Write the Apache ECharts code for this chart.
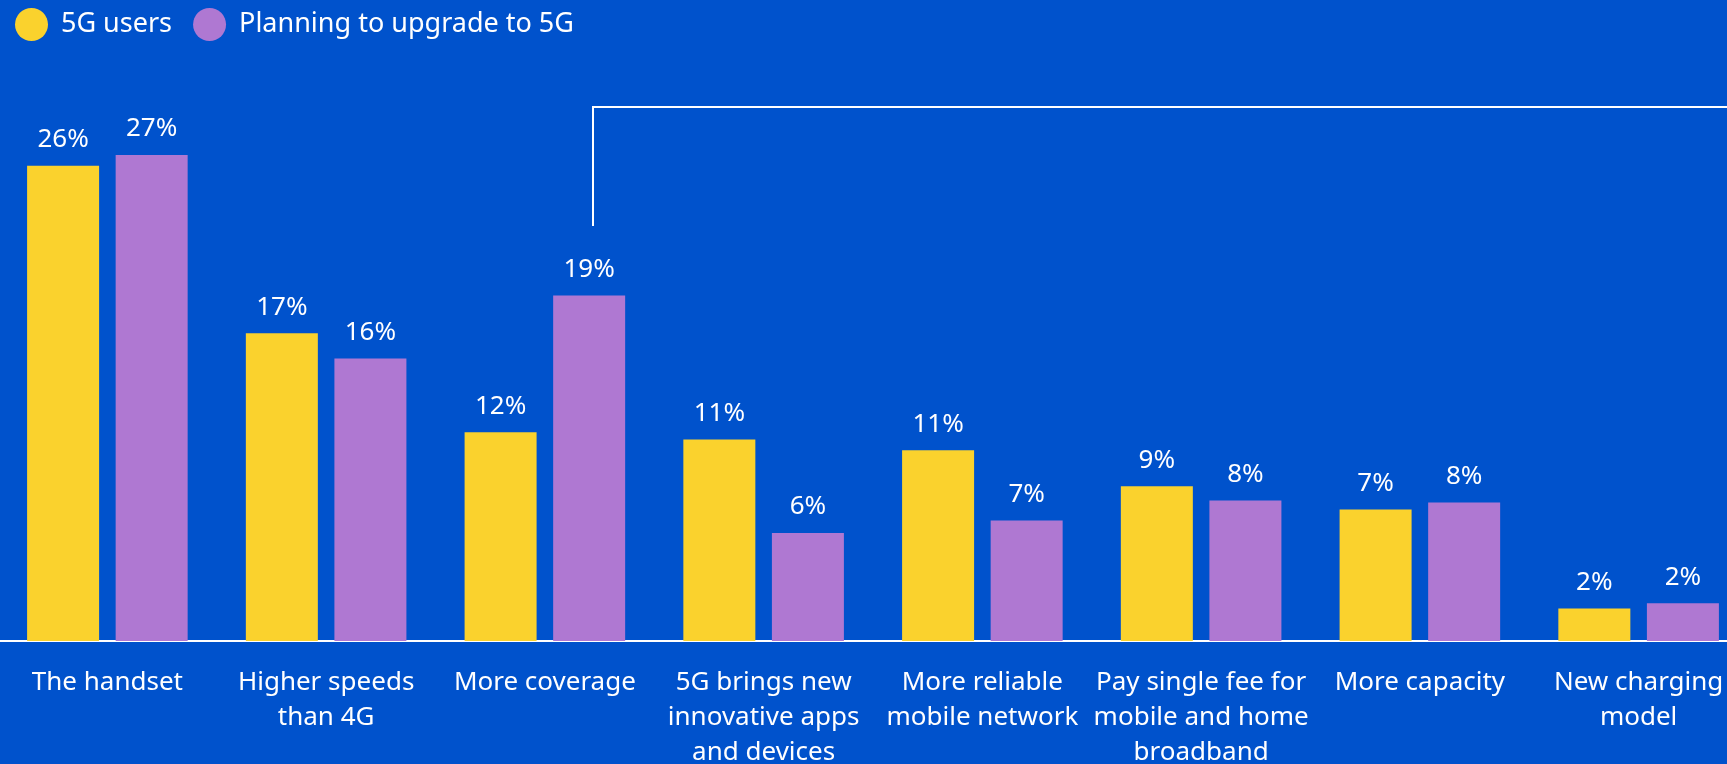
<!DOCTYPE html>
<html>
<head>
<meta charset="utf-8">
<script src="https://cdn.jsdelivr.net/npm/echarts@6/dist/echarts.min.js"></script>
<style>
  html, body { margin: 0; padding: 0; background: #0052cc; }
  #chart { width: 1727px; height: 764px; }
</style>
</head>
<body>
<div id="chart"></div>
<script>
// categories on the x axis
const categories = [
  "The handset",
  "Higher speeds\nthan 4G",
  "More coverage",
  "5G brings new\ninnovative apps\nand devices",
  "More reliable\nmobile network",
  "Pay single fee for\nmobile and home\nbroadband",
  "More capacity",
  "New charging\nmodel"
];
// share of respondents (%)
const usersValues = [26.4, 17.1, 11.6, 11.2, 10.6, 8.6, 7.3, 1.8];
const planningValues = [27.0, 15.7, 19.2, 6.0, 6.7, 7.8, 7.7, 2.1];

const FONT = "Noto Sans";
var myChart = echarts.init(document.getElementById("chart"));

const labelStyle = {
  show: true,
  position: "top",
  distance: 13,
  color: "#ffffff",
  fontFamily: FONT,
  fontSize: 26,
  formatter: function (p) {
    return Math.round(p.value) + "%";
  },
};

myChart.setOption({
  backgroundColor: "#0052cc",
  animation: false,
  legend: {
    left: 15,
    top: 8,
    padding: 0,
    icon: "circle",
    itemWidth: 33,
    itemHeight: 33,
    itemGap: 21,
    textStyle: {
      color: "#ffffff",
      fontFamily: FONT,
      fontSize: 27,
      padding: [0, 0, 0, 8],
    },
    data: ["5G users", "Planning to upgrade to 5G"],
  },
  grid: {
    left: -2,
    right: -21,
    top: 101,
    bottom: 123,
    outerBoundsMode: "none",
  },
  xAxis: {
    type: "category",
    data: categories,
    axisLine: { show: true, lineStyle: { color: "#ffffff", width: 2 } },
    axisTick: { show: false },
    axisLabel: {
      color: "#ffffff",
      fontFamily: FONT,
      fontSize: 26,
      lineHeight: 35,
      margin: 24,
      interval: 0,
    },
  },
  yAxis: {
    type: "value",
    min: 0,
    max: 30,
    show: false,
    splitLine: { show: false },
  },
  series: [
    {
      name: "5G users",
      type: "bar",
      barWidth: 72,
      barGap: "23%",
      itemStyle: { color: "#fad22d" },
      label: labelStyle,
      data: usersValues,
    },
    {
      name: "Planning to upgrade to 5G",
      type: "bar",
      barWidth: 72,
      barGap: "23%",
      itemStyle: { color: "#af78d2" },
      label: labelStyle,
      data: planningValues,
    },
  ],
  graphic: [
    {
      type: "polyline",
      shape: { points: [[593, 226], [593, 107], [1740, 107]] },
      style: { stroke: "#ffffff", lineWidth: 2, fill: null },
      z: 10,
    },
  ],
});
</script>
</body>
</html>
